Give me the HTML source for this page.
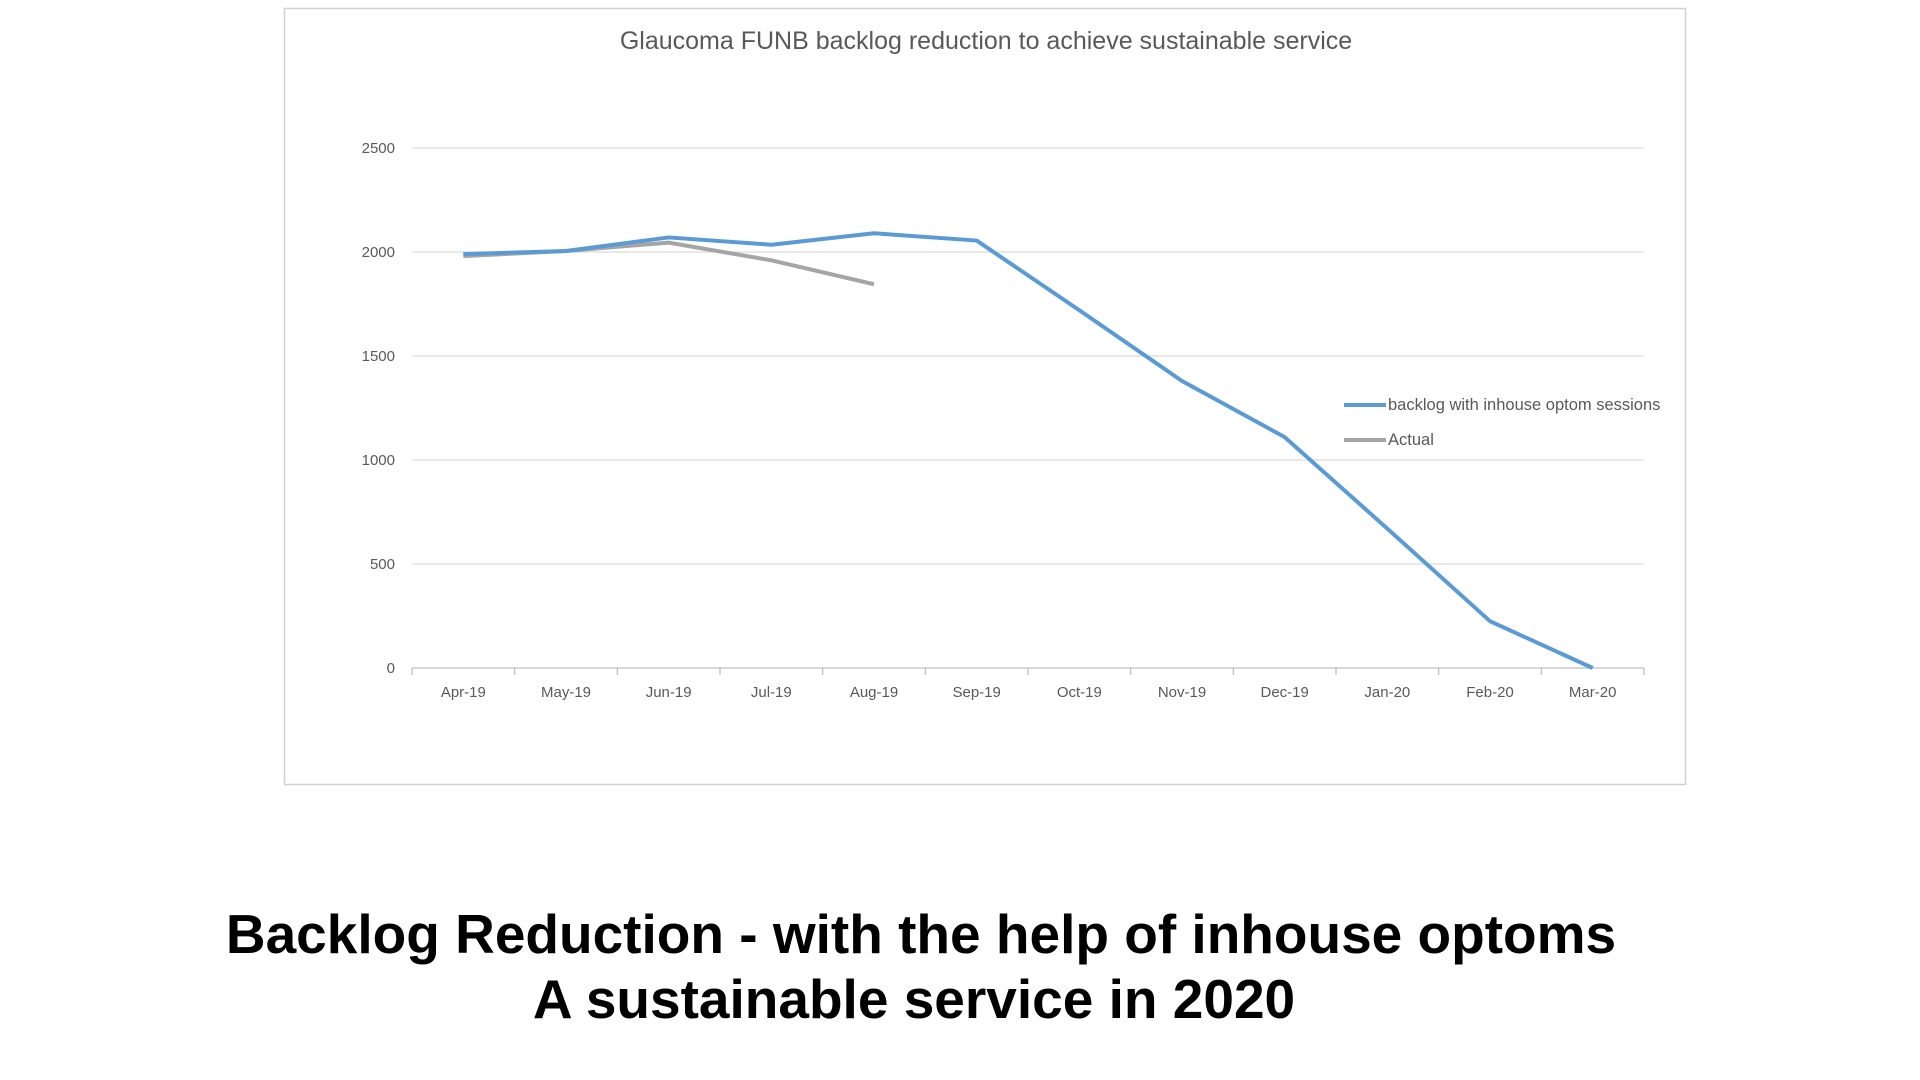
<!DOCTYPE html>
<html><head><meta charset="utf-8"><style>
body{margin:0;width:1920px;height:1080px;background:#fff;overflow:hidden;font-family:"Liberation Sans",sans-serif}
#chart{position:absolute;left:0;top:0}
.cap{position:absolute;left:0;width:1842px;text-align:center;font-weight:bold;font-size:55px;color:#000}
</style></head><body>
<svg id="chart" width="1920" height="1080"></svg>
<div class="cap" style="top:902px">Backlog Reduction - with the help of inhouse optoms</div>
<div class="cap" style="top:967px;width:1828px">A sustainable service in 2020</div>
<script>
const categories=["Apr-19","May-19","Jun-19","Jul-19","Aug-19","Sep-19","Oct-19","Nov-19","Dec-19","Jan-20","Feb-20","Mar-20"];
const backlogValues=[1990,2005,2070,2035,2090,2055,1720,1380,1110,670,225,0];
const actualValues=[1980,2005,2045,1960,1845];
const yTicks=[0,500,1000,1500,2000,2500];
const NS="http://www.w3.org/2000/svg";
const svg=document.getElementById('chart');
const X0=412,X1=1644,Y0=668,Y1=148,YMAX=2500;
const step=(X1-X0)/categories.length;
function xs(i){return X0+step*(i+0.5);}
function ys(v){return Y0-(v/YMAX)*(Y0-Y1);}
function mk(tag,attrs){const e=document.createElementNS(NS,tag);for(const k in attrs)e.setAttribute(k,attrs[k]);svg.appendChild(e);return e;}
let e=mk('rect',{x:284.5,y:8.5,width:1401,height:776,fill:'#fff',stroke:'#d0d0d0','stroke-width':1.5});


e=mk('text',{x:986,y:49,'text-anchor':'middle','font-size':25,fill:'#595959','font-family':'Liberation Sans, sans-serif'});
e.textContent='Glaucoma FUNB backlog reduction to achieve sustainable service';


yTicks.forEach(t=>{
  const g=mk('line',{x1:X0,x2:X1,y1:ys(t),y2:ys(t),stroke:t===0?'#bfbfbf':'#d9d9d9','stroke-width':1.3});
  
  
  const l=mk('text',{x:395,y:ys(t)+5,'text-anchor':'end','font-size':15,fill:'#595959'});
  l.textContent=t;
  
  
});
for(let i=0;i<=categories.length;i++){
  const tk=mk('line',{x1:X0+step*i,x2:X0+step*i,y1:Y0,y2:Y0+7,stroke:'#bfbfbf','stroke-width':1.3});
  
  
}
categories.forEach((c,i)=>{
  const l=mk('text',{x:xs(i),y:697,'text-anchor':'middle','font-size':15,fill:'#595959'});
  l.textContent=c;
  
  
});
function series(vals,color,name){
  const p=mk('polyline',{points:vals.map((v,i)=>xs(i)+','+ys(v)).join(' '),fill:'none',stroke:color,'stroke-width':4,'stroke-linejoin':'round'});
  
  
}
series(actualValues,'#a5a5a5','actual-line');
series(backlogValues,'#5b9bd5','backlog-line');
[['#5b9bd5','backlog with inhouse optom sessions',405,'legend-backlog'],['#a5a5a5','Actual',440,'legend-actual']].forEach(d=>{
  const ln=mk('line',{x1:1344,x2:1386,y1:d[2],y2:d[2],stroke:d[0],'stroke-width':4});
  
  
  const t=mk('text',{x:1388,y:d[2]+5,'font-size':16.5,fill:'#595959'});
  t.textContent=d[1];
  
  
});
</script>
</body></html>
